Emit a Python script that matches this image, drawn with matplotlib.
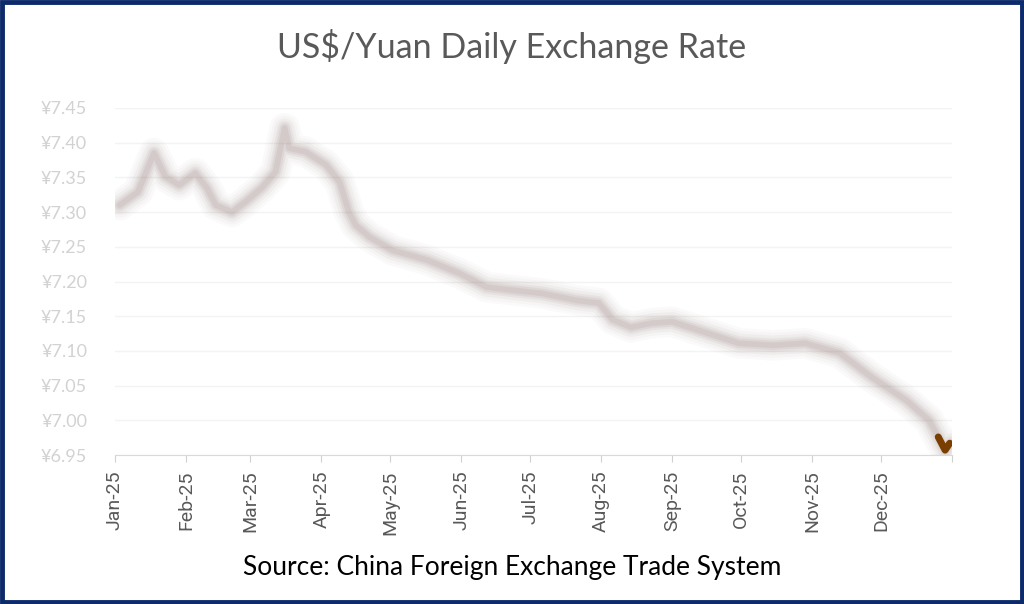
import matplotlib
matplotlib.use("Agg")
import matplotlib.pyplot as plt
from matplotlib.patches import Rectangle
import pandas as pd

# ---- data ----
dates = ["2025-01-03", "2025-01-11", "2025-01-18", "2025-01-23", "2025-01-29",
         "2025-02-05", "2025-02-10", "2025-02-14", "2025-02-21", "2025-02-27",
         "2025-03-06", "2025-03-12", "2025-03-16", "2025-03-18", "2025-03-25",
         "2025-04-03", "2025-04-09", "2025-04-13", "2025-04-16", "2025-04-22",
         "2025-05-02", "2025-05-17", "2025-05-31", "2025-06-12", "2025-06-22",
         "2025-07-06", "2025-07-21", "2025-07-31", "2025-08-06", "2025-08-14",
         "2025-08-23", "2025-09-01", "2025-09-16", "2025-09-30", "2025-10-15",
         "2025-10-29", "2025-11-13", "2025-11-27", "2025-12-12", "2025-12-22",
         "2025-12-26", "2025-12-29", "2025-12-31"]
rates = [7.310, 7.329, 7.385, 7.351, 7.339,
         7.356, 7.335, 7.310, 7.300, 7.315,
         7.335, 7.358, 7.421, 7.392, 7.387,
         7.368, 7.343, 7.300, 7.281, 7.264,
         7.245, 7.231, 7.212, 7.192, 7.188,
         7.183, 7.173, 7.169, 7.145, 7.134,
         7.140, 7.142, 7.126, 7.111, 7.108,
         7.111, 7.097, 7.062, 7.029, 7.000,
         6.976, 6.957, 6.967]
y_ticks = [6.95, 7.00, 7.05, 7.10, 7.15, 7.20, 7.25, 7.30, 7.35, 7.40, 7.45]
month_ticks = ["2025-01-01", "2025-02-01", "2025-03-01", "2025-04-01", "2025-05-01",
               "2025-06-01", "2025-07-01", "2025-08-01", "2025-09-01", "2025-10-01",
               "2025-11-01", "2025-12-01", "2026-01-01"]
month_labels = ["Jan-25", "Feb-25", "Mar-25", "Apr-25", "May-25", "Jun-25", "Jul-25",
                "Aug-25", "Sep-25", "Oct-25", "Nov-25", "Dec-25", ""]

title = "US$/Yuan Daily Exchange Rate"
source = "Source: China Foreign Exchange Trade System"

x = pd.to_datetime(dates)
mt = pd.to_datetime(month_ticks)

plt.rcParams['font.family'] = ['Lato', 'DejaVu Sans']

fig = plt.figure(figsize=(10.24, 6.04), dpi=100)
fig.patch.set_facecolor("white")
ax = fig.add_axes([115/1024, (604-455)/604, (952-115)/1024, (455-108)/604])

# soft, blurred-looking line
for lw, a in [(22, 0.03), (18, 0.045), (14, 0.06), (10, 0.08), (7, 0.10), (4, 0.12)]:
    ax.plot(x, rates, color="#8c7570", lw=lw, alpha=a, solid_capstyle="round",
            solid_joinstyle="round")
# sharp final segment
ax.plot(x[-3:], rates[-3:], color="#7a3f00", lw=5, solid_capstyle="round",
        solid_joinstyle="round")

ax.set_xlim(mt[0], mt[-1])
ax.set_ylim(y_ticks[0], y_ticks[-1])
ax.set_yticks(y_ticks)
ax.set_yticklabels([f"¥{v:.2f}" for v in y_ticks], color="#d2d2d2", fontsize=13)
ax.set_xticks(mt)
ax.set_xticklabels(month_labels, rotation=90, color="#595959", fontsize=14,
                   family=["Roboto", "DejaVu Sans"])
ax.tick_params(axis="y", length=0, pad=20)
ax.tick_params(axis="x", length=5, color="#d0d0d0", pad=6)
ax.grid(axis="y", color="#f3f3f3", lw=1)
ax.set_axisbelow(True)
for s in ["top", "right", "left"]:
    ax.spines[s].set_visible(False)
ax.spines["bottom"].set_color("#d9d9d9")

fig.text(0.5, 1 - 46/604, title, ha="center", va="center", fontsize=24.5, color="#595959")
fig.text(0.5, 1 - 568/604, source, ha="center", va="center", fontsize=19, color="black")

fig.add_artist(Rectangle((0.002, 0.003), 0.996, 0.994, transform=fig.transFigure,
                         fill=False, edgecolor="#0d2b6b", lw=3.5))

fig.savefig("out.png", dpi=100)
